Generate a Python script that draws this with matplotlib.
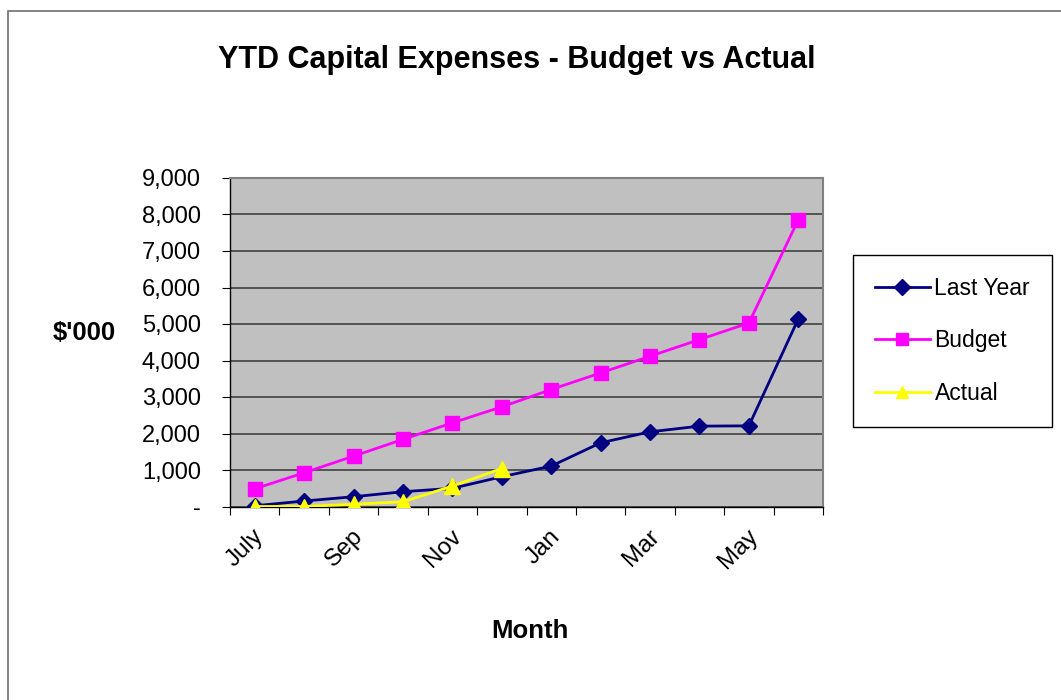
import matplotlib
matplotlib.use("Agg")
import matplotlib.pyplot as plt
import matplotlib.transforms as mtransforms
from matplotlib.patches import Rectangle
from matplotlib.ticker import FuncFormatter, FixedLocator

plt.rcParams['font.family'] = ['Liberation Sans', 'DejaVu Sans']

months = ["July", "Aug", "Sep", "Oct", "Nov", "Dec", "Jan", "Feb", "Mar", "Apr", "May", "Jun"]
last_year = [20, 150, 268, 405, 498, 815, 1108, 1745, 2046, 2202, 2210, 5140]
budget = [484, 925, 1380, 1838, 2292, 2730, 3205, 3660, 4117, 4573, 5027, 7855]
actual = [0, 0, 60, 130, 560, 1040]
y_ticks = [0, 1000, 2000, 3000, 4000, 5000, 6000, 7000, 8000, 9000]

W, H = 1061, 700
fig = plt.figure(figsize=(W / 100, H / 100), dpi=100)
fig.patch.set_facecolor("white")

# outer chart-area border
fig.add_artist(Rectangle((7.5 / W, -0.01), 1.05, 1 - 10.5 / H + 0.01, transform=fig.transFigure,
                         fill=False, edgecolor="#707070", linewidth=1.2))

ax = fig.add_axes([230 / W, 1 - 506.5 / H, (823 - 230) / W, (506.5 - 178) / H])
ax.set_facecolor("#C0C0C0")

x = list(range(len(months)))
ax.plot(x, last_year, color="#000080", linewidth=2, marker="D", markersize=8,
        markerfacecolor="#000080", markeredgecolor="#000080", label="Last Year", zorder=3)
ax.plot(x, budget, color="#FF00FF", linewidth=2, marker="s", markersize=10,
        markerfacecolor="#FF00FF", markeredgecolor="#FF00FF", label="Budget", zorder=3)
ax.plot(x[:len(actual)], actual, color="#FFFF00", linewidth=2, marker="^", markersize=11,
        markerfacecolor="#FFFF00", markeredgecolor="#FFFF00", label="Actual", zorder=4)

ax.set_xlim(-0.5, len(months) - 0.5)
ax.set_ylim(0, 9000)

ax.set_yticks(y_ticks)
ax.yaxis.set_major_formatter(FuncFormatter(lambda v, p: "-" if v == 0 else f"{int(v):,}"))
ax.grid(axis="y", color="#404040", linewidth=1.2, zorder=1)
ax.set_axisbelow(True)

ax.xaxis.set_major_locator(FixedLocator([i - 0.5 for i in range(len(months) + 1)]))
ax.xaxis.set_major_formatter(FuncFormatter(lambda v, p: ""))
ax.xaxis.set_minor_locator(FixedLocator([i for i in x if i % 2 == 0]))
ax.set_xticklabels([months[i] for i in x if i % 2 == 0], minor=True)
ax.tick_params(axis="x", which="major", direction="out", length=6, color="black")
ax.tick_params(axis="x", which="minor", length=0, pad=19, labelsize=17.5)
shift = mtransforms.ScaledTranslation(6 / 100, 0, fig.dpi_scale_trans)
for lbl in ax.get_xticklabels(minor=True):
    lbl.set_rotation(45)
    lbl.set_ha("right")
    lbl.set_va("center")
    lbl.set_rotation_mode("anchor")
    lbl.set_transform(lbl.get_transform() + shift)
ax.tick_params(axis="y", direction="out", length=6, labelsize=17, pad=15)

for s in ["top", "right"]:
    ax.spines[s].set_color("#808080")
    ax.spines[s].set_linewidth(1.5)
for s in ["left", "bottom"]:
    ax.spines[s].set_color("black")
    ax.spines[s].set_linewidth(1.0)

fig.text(517 / W, 1 - 60 / H, "YTD Capital Expenses - Budget vs Actual", ha="center", va="center",
         fontsize=22, fontweight="bold")
fig.text(84 / W, 1 - 333 / H, "$'000", ha="center", va="center", fontsize=18.5, fontweight="bold")
fig.text(530 / W, 1 - 631 / H, "Month", ha="center", va="center", fontsize=18.5, fontweight="bold")

leg = fig.legend(loc="center", bbox_to_anchor=(952.5 / W, 1 - 341 / H), fontsize=16.5,
                 frameon=True, fancybox=False, edgecolor="black", framealpha=1,
                 handlelength=2.4, handletextpad=0.2, labelspacing=1.3, borderpad=0.95,
                 borderaxespad=0)
leg.get_frame().set_linewidth(1.0)
for h in leg.legend_handles:
    h.set_markersize(8)

fig.savefig("out.png", dpi=100)
